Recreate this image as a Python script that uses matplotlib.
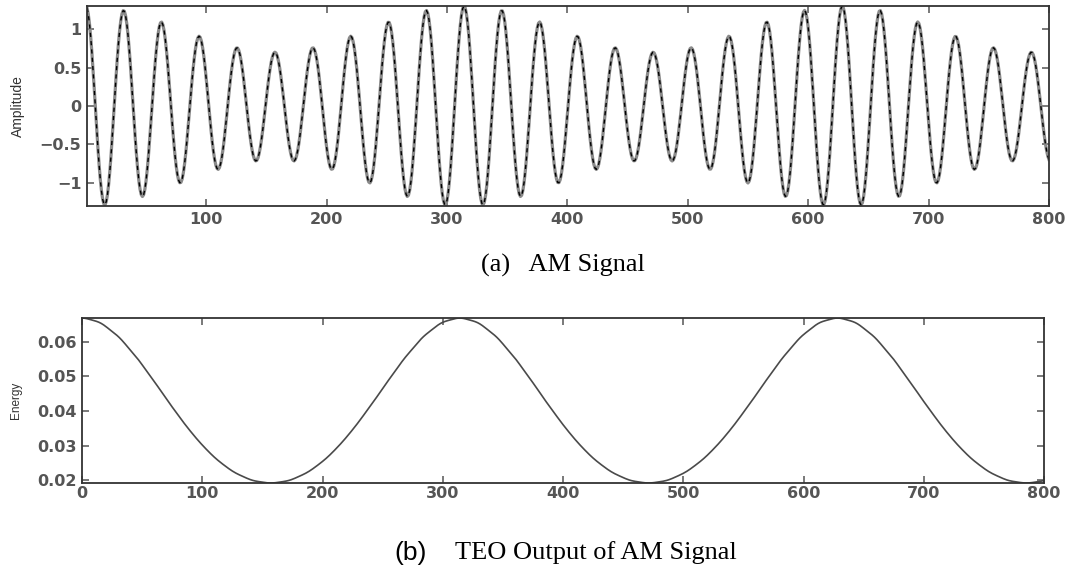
import matplotlib
matplotlib.use("Agg")
import matplotlib.pyplot as plt
import numpy as np

# AM signal: carrier period ~31.4 samples, envelope period ~314 samples,
# envelope swings between 0.7 and 1.3
carrier_w = 0.2
mod_w = 0.02
mod_depth = 0.3
n_samples = 800

top_xticks = [100, 200, 300, 400, 500, 600, 700, 800]
top_yticks = [-1, -0.5, 0, 0.5, 1]
top_yticklabels = ["\u22121", "\u22120.5", "0", "0.5", "1"]
bot_xticks = [0, 100, 200, 300, 400, 500, 600, 700, 800]
bot_yticks = [0.02, 0.03, 0.04, 0.05, 0.06]


def am(n):
    return (1 + mod_depth * np.cos(mod_w * n)) * np.cos(carrier_w * n)


def teo(x):
    # discrete Teager energy operator
    return x[1:-1] ** 2 - x[:-2] * x[2:]


n = np.arange(1, n_samples + 1)
x = am(n)
n_ext = np.arange(-1, n_samples + 2)
psi = teo(am(n_ext))
n_psi = n_ext[1:-1]

plt.rcParams["font.family"] = ["DejaVu Sans"]
fig = plt.figure(figsize=(10.72, 5.68), dpi=100)

tick_color = "#555555"


def style(ax):
    for s in ax.spines.values():
        s.set_color("#333333")
        s.set_linewidth(1.3)
    ax.tick_params(direction="in", length=5, width=1.1, top=True, right=True,
                   labelsize=11.5, colors=tick_color, pad=4)
    for lab in ax.get_xticklabels() + ax.get_yticklabels():
        lab.set_fontweight("semibold")


ax1 = fig.add_axes([0.0812, 0.6373, 0.8973, 0.3521])
ax1.plot(n, x, color="#8a8a8a", lw=2.3)
ax1.plot(n, x, color="black", lw=1.0, ls=(0, (3, 3)))
ax1.set_xlim(1, n_samples)
ax1.set_ylim(-1.3, 1.3)
ax1.set_xticks(top_xticks)
ax1.set_yticks(top_yticks)
ax1.set_yticklabels(top_yticklabels)
ax1.set_ylabel("Amplitude", fontsize=10, color="#333333", family="Liberation Sans", va="center")
ax1.yaxis.set_label_coords(-0.0717, 0.5)
style(ax1)

ax2 = fig.add_axes([0.0765, 0.1496, 0.8974, 0.2905])
ax2.plot(n_psi, psi, color="#4a4a4a", lw=1.2)
ax2.set_xlim(0, n_samples)
ax2.set_ylim(psi.min(), psi.max())
ax2.set_xticks(bot_xticks)
ax2.set_yticks(bot_yticks)
ax2.set_ylabel("Energy", fontsize=8.5, color="#333333", family="Liberation Sans", va="center")
ax2.yaxis.set_label_coords(-0.069, 0.5)
style(ax2)
ax2.tick_params(axis="x", pad=2)

fig.text(0.525, 0.532, "(a)   AM Signal", fontsize=19, family="Liberation Serif",
         ha="center", va="center")
fig.text(0.368, 0.027, "(b)", fontsize=19, family="Liberation Sans",
         ha="left", va="center")
fig.text(0.4245, 0.027, "TEO Output of AM Signal", fontsize=19, family="Liberation Serif",
         ha="left", va="center")

fig.savefig("out.png", dpi=100)
